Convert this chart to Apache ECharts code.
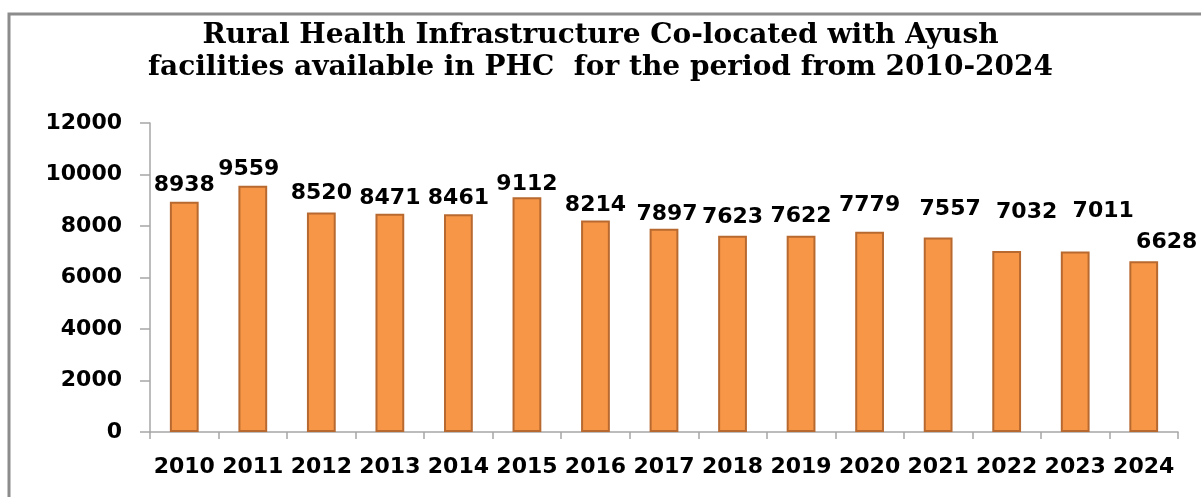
<!DOCTYPE html>
<html>
<head>
<meta charset="utf-8">
<script src="https://cdn.jsdelivr.net/npm/echarts@6/dist/echarts.min.js"></script>
<style>
	html, body { margin: 0; padding: 0; background: #fff; }
	#echart1 { width: 1201px; height: 497px; }
</style>
</head>
<body>
<div id="echart1"></div>
<script>
	var years = ['2010', '2011', '2012', '2013', '2014', '2015', '2016', '2017', '2018', '2019', '2020', '2021', '2022', '2023', '2024'];
	var phcAyush = [8938, 9559, 8520, 8471, 8461, 9112, 8214, 7897, 7623, 7622, 7779, 7557, 7032, 7011, 6628];
	var yTicks = [0, 2000, 4000, 6000, 8000, 10000, 12000];

	// hand-placed data labels in the original, nudged in px [dx, dy]
	var labelNudge = [[0, 0], [-4, 0], [0, -2], [0, 1], [0, 1], [0, 4], [0, 2], [3, 3], [0, -1], [0, -2], [0, -9], [12, -11], [20, -22], [28, -23], [23, -2]];

	var labelFont = 'DejaVu Sans';

	var barData = phcAyush.map(function (v, i) {
		return {
			value: v,
			label: { offset: labelNudge[i] }
		};
	});

	var option1 = {
		animation: false,
		title: {
			text: 'Rural Health Infrastructure Co-located with Ayush\nfacilities available in PHC  for the period from 2010-2024',
			left: 'center',
			top: 15,
			textStyle: {
				fontFamily: 'DejaVu Serif',
				fontWeight: 'bold',
				fontSize: 28,
				lineHeight: 32,
				color: '#000'
			}
		},
		graphic: [{
			type: 'rect',
			shape: { x: 9, y: 14, width: 1200, height: 500 },
			style: { fill: 'none', stroke: '#8c8c8c', lineWidth: 3 },
			silent: true
		}],
		grid: {
			top: 123,
			right: 23,
			bottom: 65,
			left: 150
		},
		xAxis: {
			type: 'category',
			data: years,
			axisLine: {
				lineStyle: { color: '#a6a6a6', width: 1.5 }
			},
			axisTick: {
				show: true,
				length: 7,
				lineStyle: { color: '#a6a6a6', width: 1.5 }
			},
			axisLabel: {
				margin: 24,
				fontFamily: labelFont,
				fontWeight: 'bold',
				fontSize: 22,
				color: '#000',
				interval: 0
			}
		},
		yAxis: {
			type: 'value',
			min: yTicks[0],
			max: yTicks[yTicks.length - 1],
			interval: 2000,
			splitLine: { show: false },
			axisLine: {
				show: true,
				lineStyle: { color: '#a6a6a6', width: 1.5 }
			},
			axisTick: {
				show: true,
				length: 10,
				lineStyle: { color: '#a6a6a6', width: 1.5 }
			},
			axisLabel: {
				margin: 28,
				fontFamily: labelFont,
				fontWeight: 'bold',
				fontSize: 22,
				color: '#000',
				formatter: function (v) { return String(v); }
			}
		},
		series: [{
			name: 'PHC',
			type: 'bar',
			data: barData,
			barWidth: '42%',
			itemStyle: {
				color: '#f79646',
				borderColor: '#b8692f',
				borderWidth: 2
			},
			label: {
				show: true,
				position: 'top',
				distance: 6,
				fontFamily: labelFont,
				fontWeight: 'bold',
				fontSize: 22,
				color: '#000'
			}
		}]
	};
	var chart1 = document.getElementById('echart1');
	var barChart1 = echarts.init(chart1);
	barChart1.setOption(option1);
</script>
</body>
</html>
